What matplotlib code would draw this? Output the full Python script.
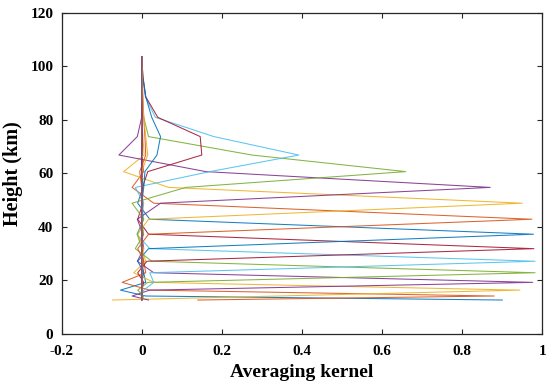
import matplotlib

matplotlib.use("Agg")
import matplotlib.pyplot as plt
import numpy as np

# retrieval levels (km)
heights = [12.7, 14.2, 16.4, 19.3, 22.9, 27.2, 31.9, 37.3, 42.9, 48.9,
           54.8, 60.7, 66.9, 73.8, 81.0, 88.7, 96.2, 103.7]

# averaging kernel rows, one per retrieval level
ak01 = [0.90, 0.01, -0.053, 0.01, 0.005, 0.0, 0.0, 0.0, 0.0, 0.0, 0.0, 0.0, 0.0, 0.0, 0.0, 0.0, 0.0, 0.0]
ak02 = [0.14, 0.88, 0.02, -0.049, 0.01, 0.005, 0.0, 0.0, 0.0, 0.0, 0.0, 0.0, 0.0, 0.0, 0.0, 0.0, 0.0, 0.0]
ak03 = [-0.073, 0.34, 0.944, 0.03, -0.02, 0.01, 0.0, 0.0, 0.0, 0.0, 0.0, 0.0, 0.0, 0.0, 0.0, 0.0, 0.0, 0.0]
ak04 = [0.017, -0.024, 0.02, 0.976, 0.03, -0.011, 0.005, 0.0, 0.0, 0.0, 0.0, 0.0, 0.0, 0.0, 0.0, 0.0, 0.0, 0.0]
ak05 = [0.0, 0.005, -0.01, 0.015, 0.982, 0.025, -0.016, 0.005, 0.0, 0.0, 0.0, 0.0, 0.0, 0.0, 0.0, 0.0, 0.0, 0.0]
ak06 = [0.0, 0.0, 0.005, 0.03, 0.02, 0.982, 0.02, -0.012, 0.005, 0.0, 0.0, 0.0, 0.0, 0.0, 0.0, 0.0, 0.0, 0.0]
ak07 = [0.0, 0.0, 0.0, 0.005, -0.01, 0.013, 0.979, 0.017, -0.01, 0.003, 0.0, 0.0, 0.0, 0.0, 0.0, 0.0, 0.0, 0.0]
ak08 = [0.0, 0.0, 0.0, 0.0, 0.005, -0.01, 0.017, 0.978, 0.02, -0.01, 0.003, 0.0, 0.0, 0.0, 0.0, 0.0, 0.0, 0.0]
ak09 = [0.0, 0.0, 0.0, 0.0, 0.0, 0.005, -0.01, 0.017, 0.974, 0.03, -0.024, 0.005, 0.0, 0.0, 0.0, 0.0, 0.0, 0.0]
ak10 = [0.0, 0.0, 0.0, 0.0, 0.0, 0.0, 0.005, -0.01, 0.017, 0.95, 0.067, -0.045, 0.006, 0.003, 0.0, 0.0, 0.0, 0.0]
ak11 = [0.0, 0.0, 0.0, 0.0, 0.0, 0.0, 0.0, 0.003, -0.011, 0.047, 0.87, 0.16, -0.057, -0.011, 0.0, 0.0, 0.0, 0.0]
ak12 = [0.0, 0.0, 0.0, 0.0, 0.0, 0.0, 0.0, -0.011, 0.005, -0.024, 0.11, 0.659, 0.275, 0.017, 0.005, 0.0, 0.0, 0.0]
ak13 = [0.0, 0.0, 0.0, 0.0, 0.0, 0.0, 0.0, 0.0, 0.0, 0.005, -0.016, 0.17, 0.392, 0.18, 0.034, 0.009, 0.002, 0.0]
ak14 = [0.0, 0.0, 0.0, 0.0, 0.0, 0.0, 0.0, 0.0, 0.0, 0.0, 0.002, 0.015, 0.15, 0.146, 0.04, 0.01, 0.003, 0.0]
ak15 = [0.0, 0.0, 0.0, 0.0, 0.0, 0.0, 0.0, 0.0, 0.0, 0.0, 0.005, 0.008, 0.038, 0.047, 0.025, 0.01, 0.003, 0.0]
ak16 = [0.0, 0.0, 0.0, 0.0, 0.0, 0.0, 0.0, 0.0, 0.0, 0.0, 0.0, -0.005, 0.01, 0.008, 0.005, 0.003, 0.001, 0.0]
ak17 = [0.0, 0.0, 0.0, 0.0, 0.0, 0.0, 0.0, 0.0, 0.0, 0.0, 0.0, 0.0, 0.015, 0.01, 0.005, 0.002, 0.001, 0.0]
ak18 = [0.0, 0.0, 0.0, 0.0, 0.0, 0.0, 0.0, 0.0, 0.0, 0.0, 0.0, 0.0, 0.0, 0.002, 0.001, 0.001, 0.0, 0.0]

kernels = [ak01, ak02, ak03, ak04, ak05, ak06, ak07, ak08, ak09,
           ak10, ak11, ak12, ak13, ak14, ak15, ak16, ak17, ak18]

xticks = [-0.2, 0, 0.2, 0.4, 0.6, 0.8, 1]
xticklabels = ["-0.2", "0", "0.2", "0.4", "0.6", "0.8", "1"]
yticks = [0, 20, 40, 60, 80, 100, 120]

# MATLAB default colour order
colors = ["#0072BD", "#D95319", "#EDB120", "#7E2F8E",
          "#77AC30", "#4DBEEE", "#A2142F"]

plt.rcParams["font.family"] = ["Liberation Serif", "DejaVu Serif"]
plt.rcParams["font.weight"] = "bold"

fig = plt.figure(figsize=(5.5, 3.89), dpi=100)
ax = fig.add_axes([0.112, 0.1414, 0.874, 0.8252])

for i, k in enumerate(kernels):
    ax.plot(k, heights, color=colors[i % len(colors)], lw=0.75, alpha=0.9)

ax.set_xlim(-0.2, 1)
ax.set_ylim(0, 120)
ax.set_xticks(xticks)
ax.set_xticklabels(xticklabels)
ax.set_yticks(yticks)
ax.tick_params(direction="in", length=3.5, width=0.8, labelsize=11,
               top=True, right=True, colors="#262626", labelcolor="black")
ax.tick_params(axis="x", pad=8)
ax.tick_params(axis="y", pad=6)
for s in ax.spines.values():
    s.set_linewidth(0.9)
    s.set_color("#262626")
for lab in ax.get_xticklabels() + ax.get_yticklabels():
    lab.set_fontweight("bold")

ax.set_xlabel("Averaging kernel", fontsize=14, fontweight="bold", labelpad=4)
ax.set_ylabel("Height (km)", fontsize=14.5, fontweight="bold", labelpad=5)

fig.savefig("out.png", dpi=100)
